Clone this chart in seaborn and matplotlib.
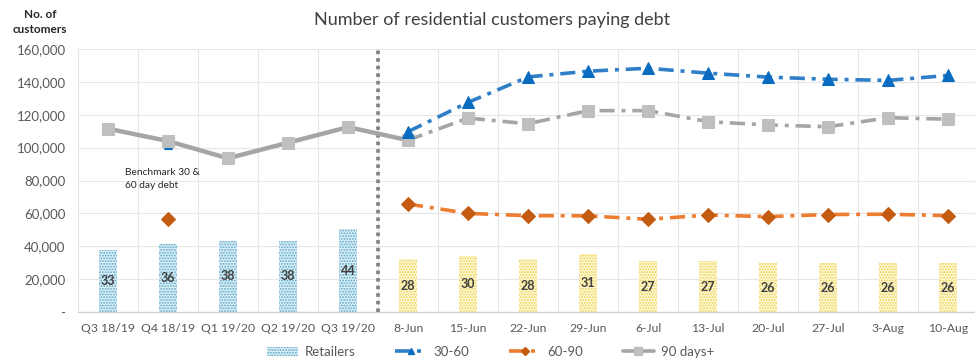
import numpy as np
import pandas as pd
import matplotlib
matplotlib.use("Agg")
import matplotlib.pyplot as plt
from matplotlib.lines import Line2D
from matplotlib.patches import Patch
import seaborn as sns

# ---- data -------------------------------------------------------------
categories = ["Q3 18/19", "Q4 18/19", "Q1 19/20", "Q2 19/20", "Q3 19/20",
              "8-Jun", "15-Jun", "22-Jun", "29-Jun", "6-Jul", "13-Jul",
              "20-Jul", "27-Jul", "3-Aug", "10-Aug"]
n_quarters = 5

# number of retailers (bars, secondary scale)
retailers = [33, 36, 38, 38, 44, 28, 30, 28, 31, 27, 27, 26, 26, 26, 26]

# customers paying debt, by age of debt
days_90_plus = [111500, 104000, 93500, 103000, 112500,
                104500, 118000, 114500, 122500, 122500,
                115800, 113800, 112700, 118200, 117300]
days_30_60_weekly = [109700, 127500, 143000, 146500, 148300,
                     145300, 142900, 141600, 140900, 143900]
days_60_90_weekly = [65700, 60000, 58600, 58500, 56400,
                     59000, 58000, 59300, 59500, 58600]
benchmark_30_60 = 101900
benchmark_60_90 = 56800
benchmark_idx = 1

yticks = [0, 20000, 40000, 60000, 80000, 100000, 120000, 140000, 160000]

# ---- style ------------------------------------------------------------
sns.set_theme(style="white")
plt.rcParams["font.family"] = ["Lato", "DejaVu Sans"]
plt.rcParams["hatch.linewidth"] = 0.9

TXT = "#595959"
GRID = "#E6E6E6"
BLUE_LINE = "#2F7FC8"
BLUE_MARK = "#0A6CC0"
ORANGE_LINE = "#ED7D31"
ORANGE_MARK = "#C55A11"
GREY_LINE = "#A5A5A5"
GREY_MARK = "#BFBFBF"
LW = 2.6
DASHDOT = (0, (4.2, 1.9, 1.1, 1.9))

x_all = np.arange(len(categories))
x_q = x_all[:n_quarters]
x_w = x_all[n_quarters:]

fig = plt.figure(figsize=(9.75, 3.6), dpi=100)
left, bottom = 78 / 975, 1 - 312 / 360
width, height = 900 / 975, (312 - 49) / 360
ax_bars = fig.add_axes([left, bottom, width, height])

# ---- bars (retailers) -------------------------------------------------
bar_q = pd.DataFrame({"x": x_q, "n": retailers[:n_quarters]})
bar_w = pd.DataFrame({"x": x_w, "n": retailers[n_quarters:]})
sns.barplot(data=bar_q, x="x", y="n", native_scale=True, width=0.3,
            color="#E3F1F7", ax=ax_bars, zorder=2)
n_first = len(ax_bars.patches)
sns.barplot(data=bar_w, x="x", y="n", native_scale=True, width=0.3,
            color="#FFFAD9", ax=ax_bars, zorder=2)
for i, p in enumerate(ax_bars.patches):
    p.set_facecolor("#DCEEF5" if i < n_first else "#FFF8D2")
    p.set_edgecolor("#5AA9CB" if i < n_first else "#EBD157")
    p.set_hatch("......")
    p.set_linewidth(0)
for cont in ax_bars.containers:
    ax_bars.bar_label(cont, label_type="center", fontsize=9,
                      fontweight="bold", color="#404040")

ax_bars.set_ylim(0, 140)
ax_bars.set_yticks(np.linspace(0, 140, 9))
ax_bars.set_yticklabels([])
ax_bars.tick_params(axis="y", length=0)
ax_bars.set_xlim(-0.5, len(categories) - 0.5)
ax_bars.set_xticks(x_all)
ax_bars.set_xticklabels(categories, fontsize=8.8, color=TXT)
ax_bars.set_xticks(np.arange(-0.5, len(categories), 1), minor=True)
ax_bars.tick_params(axis="x", which="both", length=0, pad=8)
ax_bars.grid(axis="y", which="major", color=GRID, lw=0.8, zorder=0)
ax_bars.grid(axis="x", which="minor", color=GRID, lw=0.8, zorder=0)
ax_bars.grid(axis="x", which="major", visible=False)
ax_bars.set_axisbelow(True)
ax_bars.set_xlabel("")
ax_bars.set_ylabel("")
for s in ["top", "right", "left"]:
    ax_bars.spines[s].set_visible(False)
ax_bars.spines["bottom"].set_color("#D0D0D0")
ax_bars.spines["bottom"].set_linewidth(0.9)

# ---- lines (customers) ------------------------------------------------
ax = ax_bars.twinx()
ax.patch.set_visible(False)
ax.yaxis.tick_left()
ax.yaxis.set_label_position("left")
for s in ax.spines.values():
    s.set_visible(False)

ax.axvline(n_quarters - 0.5, color="#7F7F7F", lw=2.6,
           ls=(0, (1, 1.1)), zorder=3)

# benchmark 30-60 point sits under the 90+ marker
sns.lineplot(x=[x_all[benchmark_idx]], y=[benchmark_30_60], ax=ax,
             marker="^", markersize=6, color=BLUE_MARK,
             markerfacecolor=BLUE_MARK, markeredgecolor=BLUE_MARK, zorder=4)

# 90 days+ : quarters (solid) then weekly (dash-dot)
sns.lineplot(x=x_all[:n_quarters + 1], y=days_90_plus[:n_quarters + 1], ax=ax,
             color=GREY_LINE, lw=LW + 0.6, marker="s", markersize=8.2,
             markerfacecolor=GREY_MARK, markeredgecolor=GREY_MARK, zorder=5)
sns.lineplot(x=x_w, y=days_90_plus[n_quarters:], ax=ax,
             color=GREY_LINE, lw=LW, linestyle=DASHDOT, marker="s",
             markersize=8.2, markerfacecolor=GREY_MARK,
             markeredgecolor=GREY_MARK, zorder=5)

# 30-60 weekly
sns.lineplot(x=x_w, y=days_30_60_weekly, ax=ax, color=BLUE_LINE, lw=LW,
             linestyle=DASHDOT, marker="^", markersize=8.5,
             markerfacecolor=BLUE_MARK, markeredgecolor=BLUE_MARK, zorder=6)

# 60-90 benchmark and weekly
sns.lineplot(x=[x_all[benchmark_idx]], y=[benchmark_60_90], ax=ax,
             marker="D", markersize=7.2, color=ORANGE_MARK,
             markerfacecolor=ORANGE_MARK, markeredgecolor=ORANGE_MARK,
             zorder=6)
sns.lineplot(x=x_w, y=days_60_90_weekly, ax=ax, color=ORANGE_LINE, lw=LW,
             linestyle=DASHDOT, marker="D", markersize=7.2,
             markerfacecolor=ORANGE_MARK, markeredgecolor=ORANGE_MARK,
             zorder=6)

ax.set_ylim(0, 160000)
ax.set_yticks(yticks)
ax.set_yticklabels(["-" if v == 0 else f"{v:,}" for v in yticks],
                   fontsize=9.5, color=TXT)
ax.tick_params(axis="y", length=0, pad=9)
ax.set_xlim(-0.5, len(categories) - 0.5)
ax.set_xlabel("")
ax.set_ylabel("")

ax.text(0.28, 81000, "Benchmark 30 &\n60 day debt", fontsize=7.3,
        color="#262626", ha="left", va="center", linespacing=1.6)

# ---- titles -----------------------------------------------------------
fig.text(0.505, 0.944, "Number of residential customers paying debt",
         ha="center", va="center", fontsize=13, color="#404040")
fig.text(0.041, 0.939, "No. of\ncustomers", ha="center", va="center",
         fontsize=8.5, fontweight="bold", color="#262626", linespacing=1.5)

# ---- legend -----------------------------------------------------------
handles = [
    Patch(facecolor="#DCEEF5", edgecolor="#5AA9CB", hatch="......", lw=0),
    Line2D([], [], color=BLUE_LINE, lw=LW, ls=DASHDOT, marker="^",
           markersize=5, markerfacecolor=BLUE_MARK, markeredgecolor=BLUE_MARK,
           markevery=[1]),
    Line2D([], [], color=ORANGE_LINE, lw=LW, ls=DASHDOT, marker="D",
           markersize=4, markerfacecolor=ORANGE_MARK,
           markeredgecolor=ORANGE_MARK, markevery=[1]),
    Line2D([], [], color=GREY_LINE, lw=LW, marker="s", markersize=6,
           markerfacecolor=GREY_MARK, markeredgecolor=GREY_MARK),
]
labels = ["Retailers", "30-60", "60-90", "90 days+"]
fig.legend(handles, labels, loc="center", bbox_to_anchor=(0.503, 0.022),
           ncol=4, frameon=False, fontsize=9.5, labelcolor=TXT,
           handlelength=2.4, handleheight=0.7, columnspacing=3.0,
           handletextpad=0.5)

fig.savefig("out.png", dpi=100)
